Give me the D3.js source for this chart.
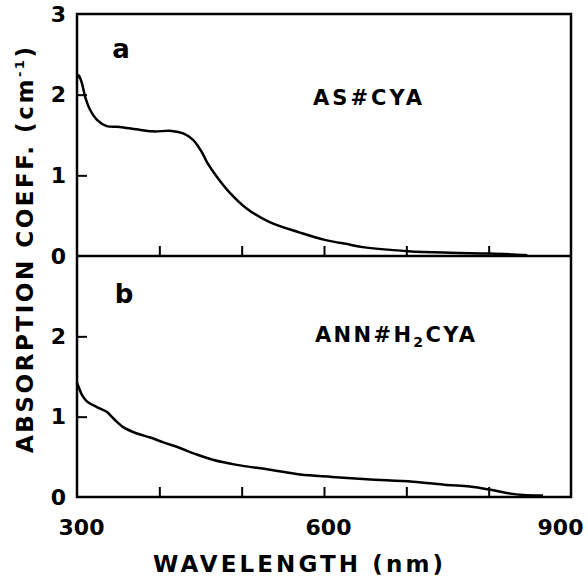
<!DOCTYPE html>
<html>
<head>
  <meta charset="utf-8">
  <script src="https://d3js.org/d3.v7.min.js"></script>
  <style>
    body { margin: 0; background: #fff; }
    text { font-family: "DejaVu Sans", sans-serif; font-weight: bold; fill: #000; }
  </style>
</head>
<body>
<script>
// wavelength (nm) and absorption coefficient (cm^-1)
var wlA = [300, 302, 306, 310, 316, 324, 336, 352, 372, 392, 415, 429, 441, 452, 458, 470, 486, 506, 534, 571, 601, 632, 647, 702, 753, 802, 847];
var absA = [2.2, 2.24, 2.14, 1.97, 1.81, 1.69, 1.61, 1.60, 1.57, 1.545, 1.55, 1.52, 1.44, 1.28, 1.16, 0.98, 0.78, 0.59, 0.42, 0.29, 0.20, 0.14, 0.11, 0.06, 0.04, 0.03, 0.01];

var wlB = [300, 302, 306, 312, 324, 336, 344, 356, 373, 389, 405, 425, 445, 466, 494, 534, 571, 610, 652, 708, 749, 777, 802, 822, 842, 866];
var absB = [1.42, 1.37, 1.27, 1.19, 1.12, 1.06, 0.98, 0.87, 0.79, 0.74, 0.68, 0.61, 0.53, 0.46, 0.40, 0.34, 0.28, 0.25, 0.22, 0.19, 0.15, 0.13, 0.09, 0.05, 0.025, 0.02];

var xLabels = [300, 600, 900];
var xMinor = [400, 500, 600, 700, 800];

var W = 588, H = 581;
var svg = d3.select("body").append("svg")
    .attr("width", W)
    .attr("height", H);

var x = d3.scaleLinear().domain([300, 900]).range([77, 571]);
var yTop = d3.scaleLinear().domain([0, 3]).range([256, 14]);
var yBot = d3.scaleLinear().domain([0, 3]).range([497, 256]);

// frame
svg.append("rect")
    .attr("x", 77).attr("y", 14)
    .attr("width", 571 - 77).attr("height", 497 - 14)
    .style("fill", "none").style("stroke", "#000").style("stroke-width", 2.5);
svg.append("line")
    .attr("x1", 77).attr("x2", 571)
    .attr("y1", yTop(0)).attr("y2", yTop(0))
    .style("stroke", "#000").style("stroke-width", 2.5);

function styleAxis(g) {
  g.select(".domain").remove();
  g.selectAll(".tick line").style("stroke", "#000").style("stroke-width", 2);
  g.selectAll(".tick text").style("font-size", "22px").style("fill", "#000")
    .style("font-family", "DejaVu Sans, sans-serif").style("font-weight", "bold");
}

// inward ticks
svg.append("g").attr("transform", "translate(0," + yTop(0) + ")")
    .call(d3.axisBottom(x).tickValues(xMinor).tickSize(-10).tickFormat(""))
    .call(styleAxis);
svg.append("g").attr("transform", "translate(0," + yBot(0) + ")")
    .call(d3.axisBottom(x).tickValues(xMinor).tickSize(-10).tickFormat(""))
    .call(styleAxis);
svg.append("g").attr("transform", "translate(77,0)")
    .call(d3.axisLeft(yTop).tickValues([1, 2]).tickSize(-10).tickFormat(""))
    .call(styleAxis);
svg.append("g").attr("transform", "translate(77,0)")
    .call(d3.axisLeft(yBot).tickValues([1, 2]).tickSize(-10).tickFormat(""))
    .call(styleAxis);

// tick labels
var xl = svg.append("g").attr("transform", "translate(0," + yBot(0) + ")")
    .call(d3.axisBottom(x).tickValues(xLabels).tickSize(0).tickPadding(22).tickFormat(d3.format("d")))
    .call(styleAxis);
xl.selectAll(".tick text").filter(function(d) { return d === 900; })
    .attr("text-anchor", "end").attr("dx", 12);
xl.selectAll(".tick text").filter(function(d) { return d !== 900; })
    .attr("dx", 4);

svg.append("g").attr("transform", "translate(77,0)")
    .call(d3.axisLeft(yTop).tickValues([0, 1, 2, 3]).tickSize(0).tickPadding(11).tickFormat(d3.format("d")))
    .call(styleAxis);
svg.append("g").attr("transform", "translate(77,0)")
    .call(d3.axisLeft(yBot).tickValues([0, 1, 2]).tickSize(0).tickPadding(11).tickFormat(d3.format("d")))
    .call(styleAxis);

// curves
var lineTop = d3.line().x(function(d) { return x(d[0]); }).y(function(d) { return yTop(d[1]); })
    .curve(d3.curveCatmullRom.alpha(0.5));
var lineBot = d3.line().x(function(d) { return x(d[0]); }).y(function(d) { return yBot(d[1]); })
    .curve(d3.curveCatmullRom.alpha(0.5));

svg.append("path").datum(d3.zip(wlA, absA))
    .attr("d", lineTop)
    .style("fill", "none").style("stroke", "#000").style("stroke-width", 2.5);
svg.append("path").datum(d3.zip(wlB, absB))
    .attr("d", lineBot)
    .style("fill", "none").style("stroke", "#000").style("stroke-width", 2.5);

// panel labels
svg.append("text").attr("x", 121).attr("y", 58)
    .attr("text-anchor", "middle").style("font-size", "26px").text("a");
svg.append("text").attr("x", 124).attr("y", 303)
    .attr("text-anchor", "middle").style("font-size", "26px").text("b");

svg.append("text").attr("x", 313).attr("y", 105)
    .attr("textLength", 109).attr("lengthAdjust", "spacing")
    .style("font-size", "21px").text("AS#CYA");

var t2 = svg.append("text").attr("x", 315).attr("y", 342)
    .attr("textLength", 160).attr("lengthAdjust", "spacing")
    .style("font-size", "21px");
t2.append("tspan").text("ANN#H");
t2.append("tspan").attr("dy", 5).style("font-size", "14px").text("2");
t2.append("tspan").attr("dy", -5).text("CYA");

// axis titles
svg.append("text").attr("x", 153).attr("y", 572)
    .attr("textLength", 290).attr("lengthAdjust", "spacing")
    .style("font-size", "23px").text("WAVELENGTH (nm)");

var yt = svg.append("text")
    .attr("transform", "translate(33,250) rotate(-90)")
    .attr("text-anchor", "middle")
    .attr("textLength", 406).attr("lengthAdjust", "spacing")
    .style("font-size", "23px");
yt.append("tspan").text("ABSORPTION COEFF. (cm");
yt.append("tspan").attr("dy", -9).style("font-size", "13px").text("-1");
yt.append("tspan").attr("dy", 9).text(")");
</script>
</body>
</html>
